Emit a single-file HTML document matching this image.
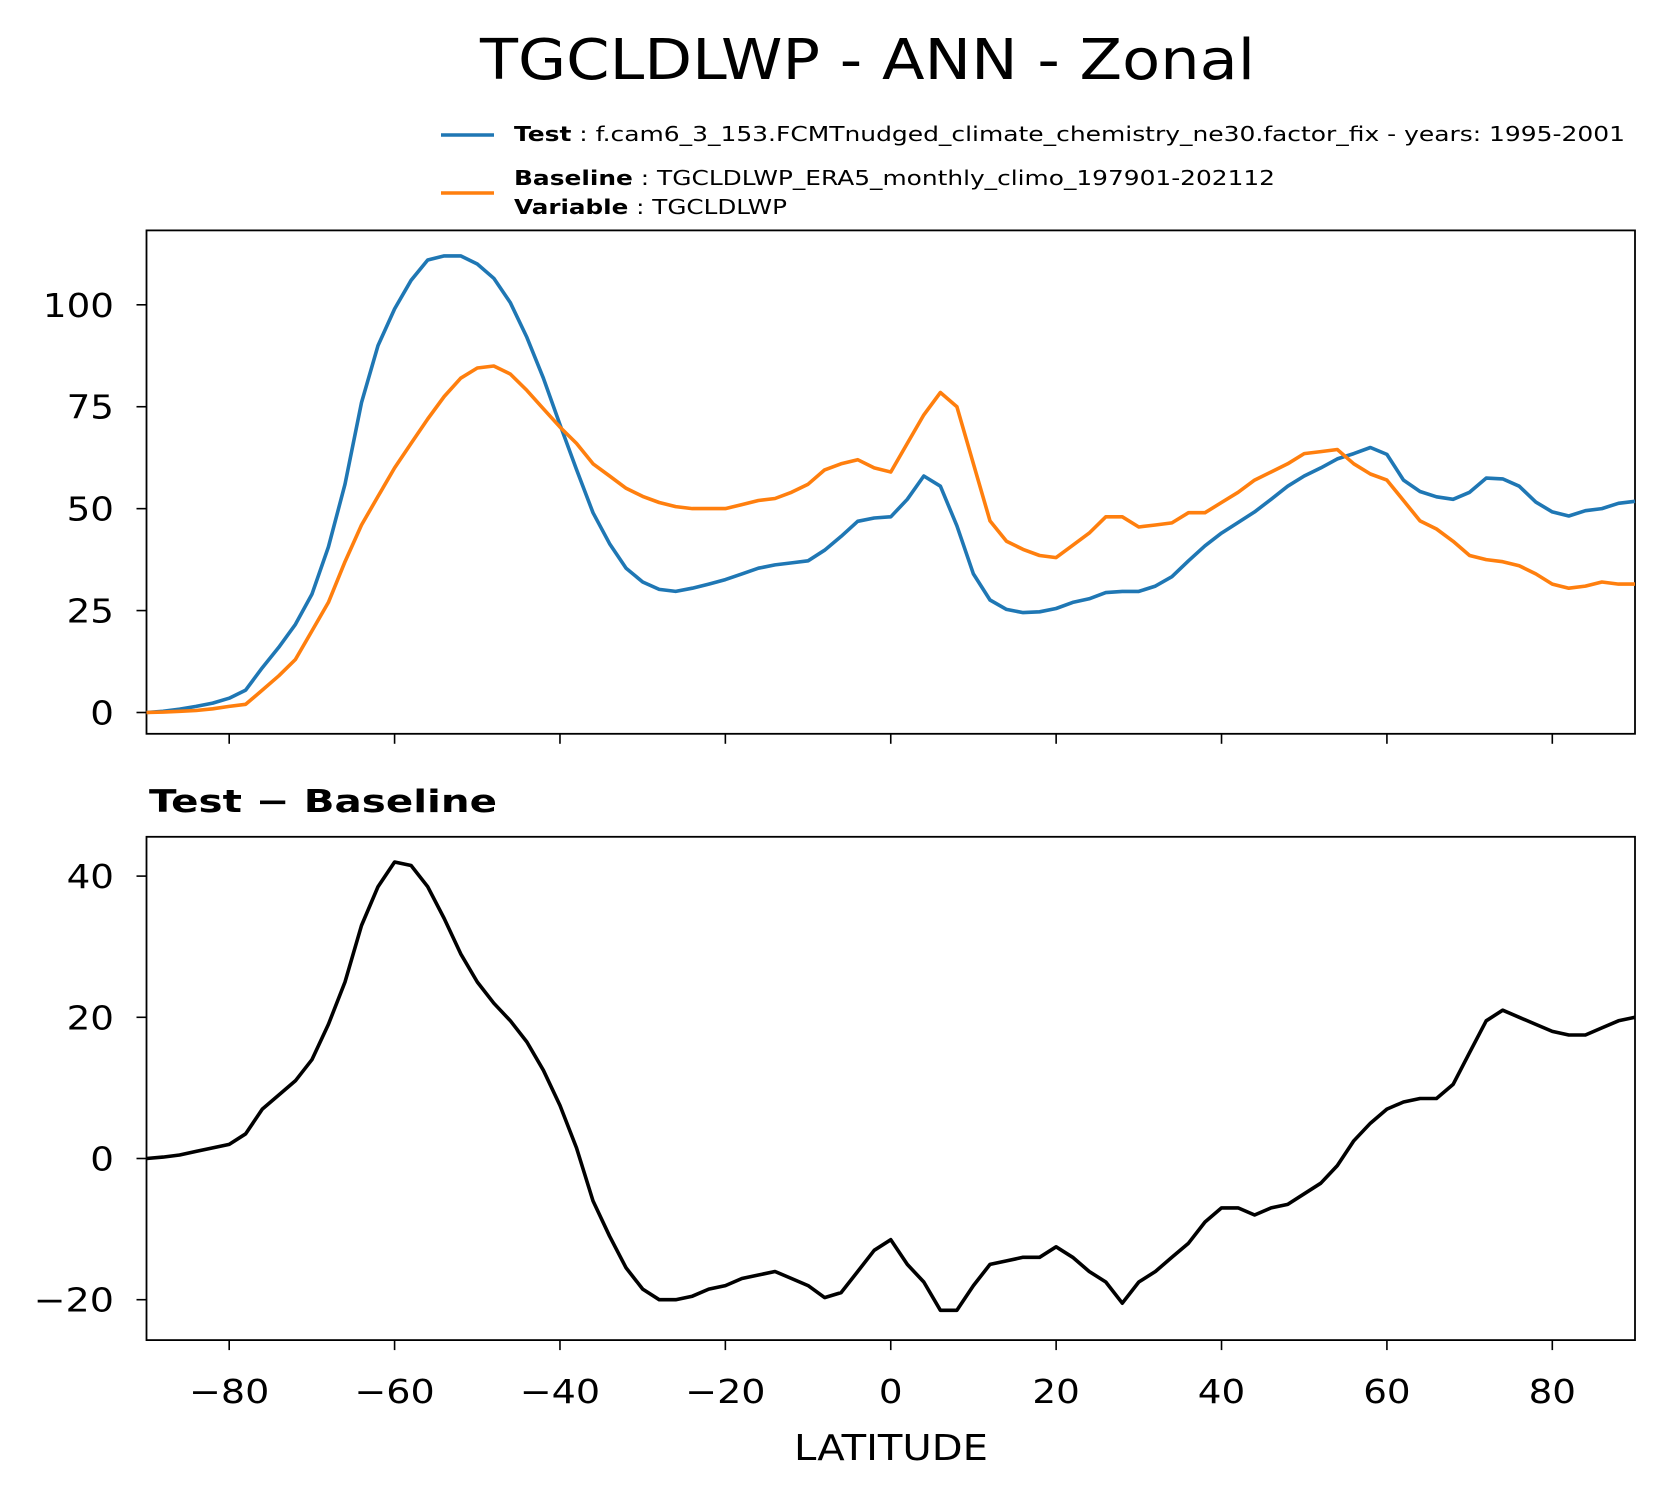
<!DOCTYPE html>
<html><head><meta charset="utf-8">
<style>
html,body{margin:0;padding:0;background:#fff;}
svg{display:block;font-family:"DejaVu Sans","Liberation Sans",sans-serif;}
</style></head>
<body>
<svg id="chart" width="1665" height="1496" viewBox="0 0 1665 1496" xmlns="http://www.w3.org/2000/svg">
<rect width="1665" height="1496" fill="#fff"/>
<text x="480" y="79" font-size="56" textLength="775" lengthAdjust="spacingAndGlyphs">TGCLDLWP - ANN - Zonal</text>
<g>
<line x1="441" y1="135" x2="494" y2="135" stroke="#1f77b4" stroke-width="3.5"/>
<text x="514" y="141" font-size="20" textLength="1111" lengthAdjust="spacingAndGlyphs"><tspan font-weight="bold">Test</tspan> : f.cam6_3_153.FCMTnudged_climate_chemistry_ne30.factor_fix - years: 1995-2001</text>
<line x1="441" y1="193" x2="494" y2="193" stroke="#ff7f0e" stroke-width="3.5"/>
<text x="514" y="185" font-size="20" textLength="761" lengthAdjust="spacingAndGlyphs"><tspan font-weight="bold">Baseline</tspan> : TGCLDLWP_ERA5_monthly_climo_197901-202112</text>
<text x="514" y="214" font-size="20" textLength="273" lengthAdjust="spacingAndGlyphs"><tspan font-weight="bold">Variable</tspan> : TGCLDLWP</text>
</g>
<text x="149" y="812" font-size="31" font-weight="bold" textLength="348" lengthAdjust="spacingAndGlyphs">Test − Baseline</text>
<text x="794" y="1460" font-size="36" textLength="194" lengthAdjust="spacingAndGlyphs">LATITUDE</text>
<g id="plots"></g>
</svg>
<script>
const lats = [-90,-88,-86,-84,-82,-80,-78,-76,-74,-72,-70,-68,-66,-64,-62,-60,-58,-56,-54,-52,-50,-48,-46,-44,-42,-40,-38,-36,-34,-32,-30,-28,-26,-24,-22,-20,-18,-16,-14,-12,-10,-8,-6,-4,-2,0,2,4,6,8,10,12,14,16,18,20,22,24,26,28,30,32,34,36,38,40,42,44,46,48,50,52,54,56,58,60,62,64,66,68,70,72,74,76,78,80,82,84,86,88,90];
const testVals = [0,0.3,0.8,1.5,2.3,3.5,5.5,11,16,21.6,29,40.6,56,76,90,99,106,111,112,112,110,106.5,100.5,92,82,70.6,59.6,49,41.4,35.4,32,30.2,29.7,30.5,31.5,32.6,34,35.4,36.2,36.7,37.2,39.8,43.2,46.9,47.7,48,52.3,58,55.5,45.8,34,27.6,25.3,24.5,24.7,25.5,27,27.9,29.4,29.7,29.7,31,33.3,37.2,40.9,44,46.6,49.2,52.3,55.5,58,60,62.2,63.5,65,63.3,57,54.2,52.9,52.3,54,57.5,57.3,55.5,51.6,49.2,48.2,49.5,50,51.3,51.8];
const baseVals = [0,0.1,0.3,0.5,0.9,1.5,2,5.5,9,13,20,27,37,46,53,60,66,72,77.5,82,84.5,85,83,79,74.5,70,66,61,58,55,53,51.5,50.5,50,50,50,51,52,52.5,54,56,59.5,61,62,60,59,66,73,78.5,75,61,47,42,40,38.5,38,41,44,48,48,45.5,46,46.5,49,49,51.5,54,57,59,61,63.5,64,64.5,61,58.5,57,52,47,45,42,38.5,37.5,37,36,34,31.5,30.5,31,32,31.5,31.5];
const diffVals = [0,0.2,0.5,1,1.5,2,3.5,7,9,11,14,19,25,33,38.5,42,41.5,38.5,34,29,25,22,19.5,16.5,12.5,7.5,1.5,-6,-11,-15.5,-18.5,-20,-20,-19.5,-18.5,-18,-17,-16.5,-16,-17,-18,-19.7,-19,-16,-13,-11.5,-15,-17.5,-21.5,-21.5,-18,-15,-14.5,-14,-14,-12.5,-14,-16,-17.5,-20.5,-17.5,-16,-14,-12,-9,-7,-7,-8,-7,-6.5,-5,-3.5,-1,2.5,5,7,8,8.5,8.5,10.5,15,19.5,21,20,19,18,17.5,17.5,18.5,19.5,20];
const xTicks = [-80,-60,-40,-20,0,20,40,60,80];
const topTicks = [0,25,50,75,100];
const botTicks = [-20,0,20,40];

const NS='http://www.w3.org/2000/svg';
const g=document.getElementById('plots');
const X0=146.5, X1=1635;
const xs = v => X0 + (v+90)/180*(X1-X0);
const yTop = v => 712.5 - v*(712.5-304.8)/100;
const yBot = v => 1158.5 - v*(1158.5-876.1)/40;
function el(tag, attrs){const e=document.createElementNS(NS,tag);for(const k in attrs)e.setAttribute(k,attrs[k]);g.appendChild(e);return e;}
function fmt(v){return v<0?'\u2212'+Math.abs(v):String(v);}
function lab(v){return String(Math.abs(v)).length*23.7 + (v<0?33:0);}
function txt(x,y,v,anchor){
  const s=fmt(v), w=lab(v);
  const e=el('text',{x:anchor==='end'?x-w:x-w/2,y:y,'font-size':33,textLength:w,lengthAdjust:'spacingAndGlyphs'});
  e.textContent=s;return e;
}

function panel(name, top, bottom, ys, yt, showLabels){
  const f=el('rect',{x:X0,y:top,width:X1-X0,height:bottom-top,fill:'none',stroke:'#000','stroke-width':1.8});
  
  
  xTicks.forEach(t=>{
    const l=el('line',{x1:xs(t),x2:xs(t),y1:bottom,y2:bottom+10,stroke:'#000','stroke-width':1.6});
    
    
    if(showLabels){
      const tt=txt(xs(t),1403,t,'middle');
      
      
    }
  });
  yt.forEach(t=>{
    const l=el('line',{x1:X0-10,x2:X0,y1:ys(t),y2:ys(t),stroke:'#000','stroke-width':1.6});
    
    
    const tt=txt(114,ys(t)+12,t,'end');
    
    
  });
}
function line(name, vals, ys, color){
  const d=vals.map((v,i)=>(i?'L':'M')+xs(lats[i]).toFixed(1)+','+ys(v).toFixed(1)).join(' ');
  const p=el('path',{d:d,fill:'none',stroke:color,'stroke-width':3.6,'stroke-linejoin':'round'});
  
  
}
panel('top-panel',230.4,733.8,yTop,topTicks,false);
panel('diff-panel',836.8,1340.1,yBot,botTicks,true);
line('test-line',testVals,yTop,'#1f77b4');
line('baseline-line',baseVals,yTop,'#ff7f0e');
line('difference-line',diffVals,yBot,'#000');
</script>
</body></html>
